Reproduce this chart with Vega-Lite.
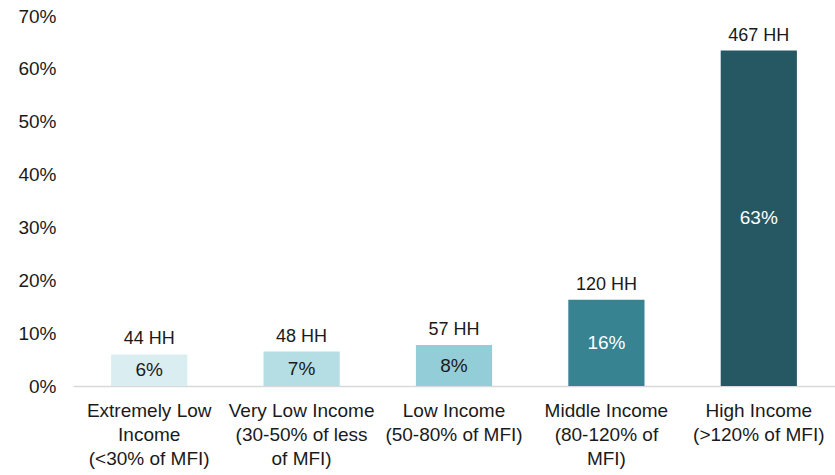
{
  "$schema": "https://vega.github.io/schema/vega-lite/v6.json",
  "autosize": "none",
  "width": 762,
  "height": 370,
  "padding": {"left": 73, "top": 16, "right": 0, "bottom": 89},
  "background": "white",
  "config": {
    "view": {"stroke": null},
    "font": "Liberation Sans"
  },
  "data": {
    "values": [
      {"cat": "Extremely Low|Income|(<30% of MFI)", "pct": 0.0598, "hh": "44 HH", "pl": "6%", "order": 1, "fill": "#DAEEF2", "tc": "#1a1a1a"},
      {"cat": "Very Low Income|(30-50% of less|of MFI)", "pct": 0.0652, "hh": "48 HH", "pl": "7%", "order": 2, "fill": "#B5DDE4", "tc": "#1a1a1a"},
      {"cat": "Low Income|(50-80% of MFI)", "pct": 0.0774, "hh": "57 HH", "pl": "8%", "order": 3, "fill": "#93CDD7", "tc": "#1a1a1a"},
      {"cat": "Middle Income|(80-120% of|MFI)", "pct": 0.163, "hh": "120 HH", "pl": "16%", "order": 4, "fill": "#378391", "tc": "#ffffff"},
      {"cat": "High Income|(>120% of MFI)", "pct": 0.6345, "hh": "467 HH", "pl": "63%", "order": 5, "fill": "#255863", "tc": "#ffffff"}
    ]
  },
  "transform": [{"calculate": "datum.pct / 2", "as": "mid"}],
  "encoding": {
    "x": {
      "field": "cat",
      "type": "nominal",
      "sort": {"field": "order"},
      "scale": {"paddingInner": 0.5, "paddingOuter": 0.25},
      "axis": {
        "title": null,
        "labelAngle": 0,
        "labelExpr": "split(datum.label, '|')",
        "labelFontSize": 19,
        "labelLineHeight": 24,
        "labelColor": "#1a1a1a",
        "labelPadding": 15,
        "labelLimit": 200,
        "ticks": false,
        "domainColor": "#d9d9d9",
        "domainWidth": 1.5
      }
    }
  },
  "layer": [
    {
      "mark": {"type": "bar"},
      "encoding": {
        "y": {
          "field": "pct",
          "type": "quantitative",
          "scale": {"domain": [0, 0.7]},
          "axis": {
            "title": null,
            "format": ".0%",
            "values": [0, 0.1, 0.2, 0.3, 0.4, 0.5, 0.6, 0.7],
            "grid": false,
            "domain": false,
            "ticks": false,
            "labelFontSize": 19,
            "labelColor": "#1a1a1a",
            "labelPadding": 17
          }
        },
        "fill": {"field": "fill", "type": "nominal", "scale": null}
      }
    },
    {
      "mark": {"type": "text", "baseline": "bottom", "dy": -6, "fontSize": 18, "color": "#1a1a1a"},
      "encoding": {
        "y": {"field": "pct", "type": "quantitative"},
        "text": {"field": "hh"}
      }
    },
    {
      "mark": {"type": "text", "baseline": "middle", "fontSize": 19},
      "encoding": {
        "y": {"field": "mid", "type": "quantitative"},
        "text": {"field": "pl"},
        "color": {"field": "tc", "type": "nominal", "scale": null}
      }
    }
  ]
}
